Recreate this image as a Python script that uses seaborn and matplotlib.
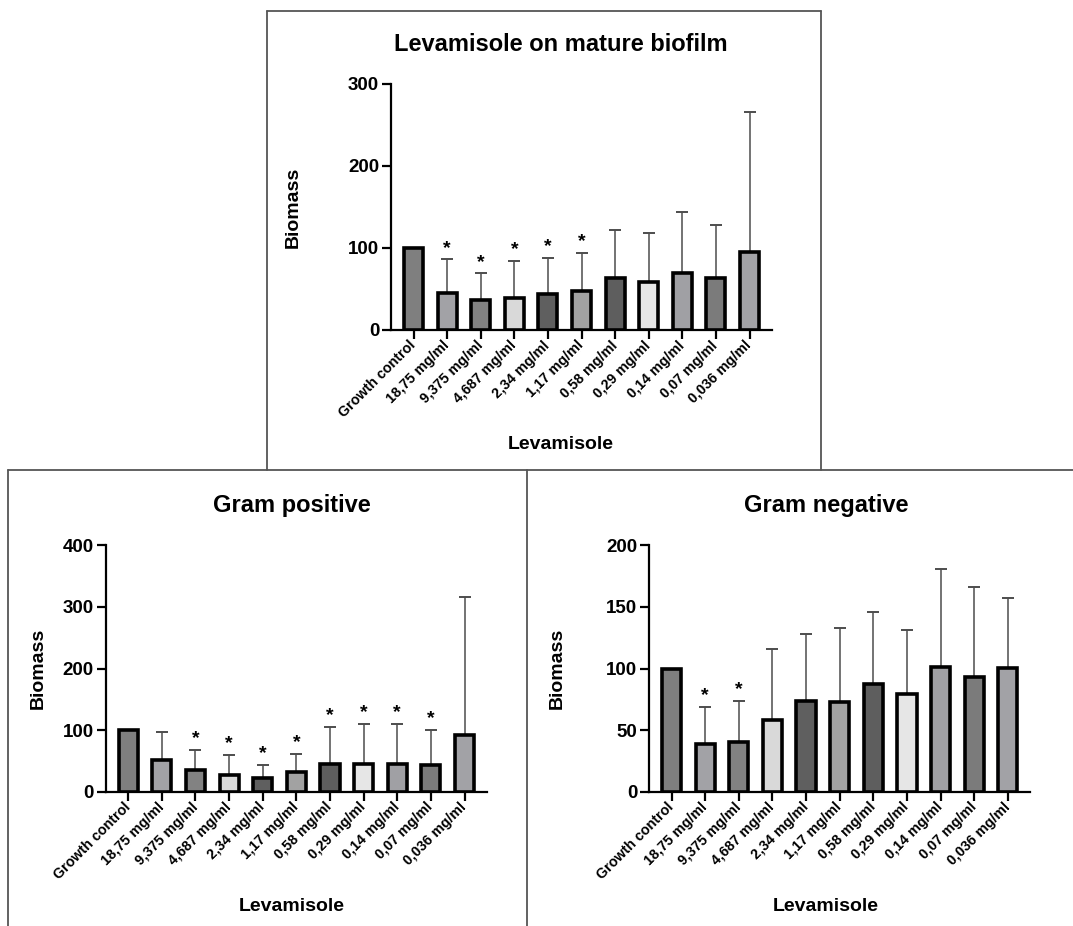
import numpy as np
import matplotlib
matplotlib.use('Agg')
import matplotlib.pyplot as plt
import seaborn as sns
from matplotlib.lines import Line2D

# Kategorien (gleich fuer alle drei Panels)
labels = ['Growth control', '18,75 mg/ml', '9,375 mg/ml', '4,687 mg/ml', '2,34 mg/ml',
          '1,17 mg/ml', '0,58 mg/ml', '0,29 mg/ml', '0,14 mg/ml', '0,07 mg/ml', '0,036 mg/ml']
bar_colors = ['#7f7f7f', '#a2a2a6', '#828282', '#d9d9d9', '#5f5f5f', '#a2a2a2',
              '#5e5e5e', '#e6e6e6', '#a0a0a4', '#7b7b7b', '#a2a2a6']

# Levamisole on mature biofilm
mature_mean = [100, 45, 37, 39, 44, 48, 63, 58.5, 70, 64, 95]
mature_sd = [0, 41, 32, 45, 44, 46, 59, 59.5, 73.5, 64, 170.5]
mature_stars = [1, 2, 3, 4, 5]

# Gram positive
pos_mean = [100, 52, 36, 27, 22, 31.5, 45.5, 44.5, 44.5, 43.5, 91.5]
pos_sd = [0, 45, 32, 33, 22, 30.5, 59, 65, 65, 56.5, 225]
pos_stars = [2, 3, 4, 5, 6, 7, 8, 9]

# Gram negative
neg_mean = [100, 38.5, 40, 58, 73.5, 73, 87.5, 79, 101, 93.5, 100.5]
neg_sd = [0, 30.5, 33.5, 58, 54.5, 60, 58.5, 52, 80, 72.5, 56.5]
neg_stars = [1, 2]

sns.set_theme(style='ticks')
plt.rcParams['font.family'] = ['Liberation Sans', 'DejaVu Sans']
plt.rcParams['font.weight'] = 'bold'
for key in ['text.color', 'axes.labelcolor', 'xtick.color', 'ytick.color']:
    plt.rcParams[key] = 'black'

W, H = 1073, 926


def px_axes(left, right, bottom, top):
    """Pixelkoordinaten (von oben gemessen) in Figure-Anteile umrechnen."""
    return [left / W, 1 - bottom / H, (right - left) / W, (bottom - top) / H]


def draw_panel(ax, means, sds, stars, ymax, step, title, title_x, ylabel_x, xlabel_x):
    n = len(labels)
    sns.barplot(x=labels, y=means, hue=labels, palette=bar_colors, legend=False,
                saturation=1, edgecolor='black', linewidth=2.6, width=0.57, ax=ax, zorder=3)
    ax.errorbar(np.arange(n), means, yerr=[np.zeros(n), sds], fmt='none',
                ecolor='#4d4d4d', elinewidth=1.1, capsize=4, capthick=1.4, zorder=2)
    for i in stars:
        ax.annotate('*', xy=(i, means[i] + sds[i]), xytext=(0, 2), textcoords='offset points',
                    ha='center', va='bottom', fontsize=14, fontweight='bold', color='black')

    ax.set_xlim(-0.67, n - 1 + 0.66)
    ax.set_ylim(0, ymax)
    ax.set_yticks(np.arange(0, ymax + 1, step))
    ax.set_xticks(np.arange(n))
    ax.set_xticklabels(labels, rotation=45, ha='right', va='center', rotation_mode='anchor',
                       fontsize=10.3, fontweight='bold')
    ax.tick_params(axis='y', labelsize=13.5, width=1.6, length=6.5, pad=2)
    ax.tick_params(axis='x', width=1.6, length=6.5, pad=3)
    for lbl in ax.get_yticklabels():
        lbl.set_fontweight('bold')
    sns.despine(ax=ax)
    for side in ['left', 'bottom']:
        ax.spines[side].set_linewidth(1.6)
        ax.spines[side].set_color('black')
    ax.set_title(title, fontsize=17, fontweight='bold', x=title_x, y=1.1)
    ax.set_ylabel('Biomass', fontsize=14, fontweight='bold')
    ax.set_xlabel('Levamisole', fontsize=14, fontweight='bold')
    ax.yaxis.set_label_coords(ylabel_x, 0.5)
    ax.xaxis.set_label_coords(xlabel_x, -0.43)
    ax.set_facecolor('white')


fig = plt.figure(figsize=(W / 100, H / 100), dpi=100)
fig.patch.set_facecolor('white')

ax_top = fig.add_axes(px_axes(391, 771.7, 330, 84))
ax_pos = fig.add_axes(px_axes(105.7, 486.7, 791.7, 545.3))
ax_neg = fig.add_axes(px_axes(649, 1030, 791.7, 545.3))

draw_panel(ax_top, mature_mean, mature_sd, mature_stars, 300, 100,
           'Levamisole on mature biofilm', 0.447, -0.235, 0.447)
draw_panel(ax_pos, pos_mean, pos_sd, pos_stars, 400, 100,
           'Gram positive', 0.489, -0.155, 0.489)
draw_panel(ax_neg, neg_mean, neg_sd, neg_stars, 200, 50,
           'Gram negative', 0.465, -0.218, 0.465)

# Rahmen um die Panels
frame_kw = dict(color='#555555', linewidth=1.3, transform=fig.transFigure)
segments = [
    ((266.7, 10.7), (820.7, 10.7)),
    ((266.7, 10.7), (266.7, 470)),
    ((820.7, 10.7), (820.7, 470)),
    ((8, 470), (1073, 470)),
    ((8, 470), (8, 926)),
    ((527.3, 470), (527.3, 926)),
]
for (x0, y0), (x1, y1) in segments:
    fig.add_artist(Line2D([x0 / W, x1 / W], [1 - y0 / H, 1 - y1 / H], **frame_kw))

fig.savefig('out.png', dpi=100, facecolor='white')
